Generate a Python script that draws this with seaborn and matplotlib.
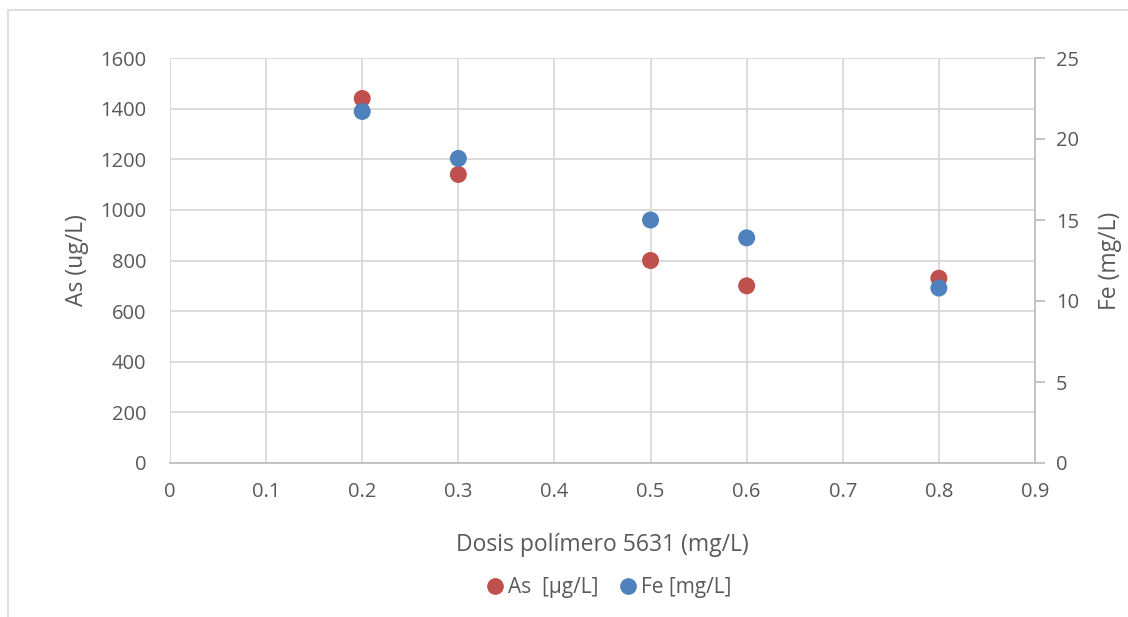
import matplotlib
matplotlib.use("Agg")
import matplotlib.pyplot as plt
from matplotlib.patches import Rectangle
from matplotlib.lines import Line2D
import seaborn as sns
import pandas as pd

# Polymer dose (mg/L) and measured concentrations
dosis = [0.2, 0.3, 0.5, 0.6, 0.8]
as_ugL = [1440, 1140, 800, 700, 730]
fe_mgL = [21.7, 18.8, 15.0, 13.9, 10.8]

x_ticks = [0, 0.1, 0.2, 0.3, 0.4, 0.5, 0.6, 0.7, 0.8, 0.9]
as_ticks = [0, 200, 400, 600, 800, 1000, 1200, 1400, 1600]
fe_ticks = [0, 5, 10, 15, 20, 25]

RED = "#C0504D"
BLUE = "#4F81BD"
TXT = "#595959"
GRID = "#D9D9D9"

sns.set_theme(style="white")
plt.rcParams["font.family"] = ["Open Sans", "DejaVu Sans"]

df = pd.DataFrame({"dosis": dosis, "As": as_ugL, "Fe": fe_mgL})

W, H = 1128, 617
fig = plt.figure(figsize=(W / 100, H / 100), dpi=100)
fig.patch.set_facecolor("white")

# chart frame
fig.patches.append(Rectangle((8 / W, -0.05), 1.2, 1 - 10 / H + 0.05,
                             transform=fig.transFigure, fill=False,
                             edgecolor=GRID, linewidth=1.2))

left, right, top, bottom = 170, 1035, 58, 463
ax = fig.add_axes([left / W, 1 - bottom / H, (right - left) / W, (bottom - top) / H])
ax2 = ax.twinx()

sns.scatterplot(data=df, x="dosis", y="As", ax=ax, color=RED, s=150,
                edgecolor="none", zorder=3)
sns.scatterplot(data=df, x="dosis", y="Fe", ax=ax2, color=BLUE, s=150,
                edgecolor="none", zorder=3)

ax.set_xlim(0, 0.9)
ax.set_ylim(0, 1600)
ax2.set_ylim(0, 25)
ax.set_xticks(x_ticks)
ax.set_xticklabels([f"{v:g}" for v in x_ticks])
ax.set_yticks(as_ticks)
ax2.set_yticks(fe_ticks)

ax.grid(True, color=GRID, linewidth=1.3)
ax.set_axisbelow(True)

for a in (ax, ax2):
    for s in a.spines.values():
        s.set_visible(False)
ax.spines["bottom"].set_visible(True)
ax.spines["bottom"].set_color("#BFBFBF")
ax.spines["bottom"].set_linewidth(1.3)
ax2.spines["right"].set_visible(True)
ax2.spines["right"].set_color("#BFBFBF")
ax2.spines["right"].set_linewidth(1.3)

ax.tick_params(axis="x", colors=TXT, labelsize=14.5, length=0, pad=14)
ax.tick_params(axis="y", colors=TXT, labelsize=14.5, length=0, pad=17)
ax2.tick_params(axis="y", colors=TXT, labelsize=14.5, length=7, width=1.3,
                color="#BFBFBF", pad=8)

ax.set_xlabel("Dosis polímero 5631 (mg/L)", color=TXT, fontsize=16.5, labelpad=22)
ax.set_ylabel("As (ug/L)", color=TXT, fontsize=16.5, labelpad=8)
ax2.set_ylabel("Fe (mg/L)", color=TXT, fontsize=16.5, labelpad=14)

handles = [
    Line2D([], [], marker="o", linestyle="none", color=RED, markersize=11, label="As  [µg/L]"),
    Line2D([], [], marker="o", linestyle="none", color=BLUE, markersize=11, label="Fe [mg/L]"),
]
fig.legend(handles=handles, loc="center", bbox_to_anchor=(0.54, 1 - 588 / H),
           ncol=2, frameon=False, fontsize=15, labelcolor=TXT,
           handlelength=0.8, handletextpad=0.25, columnspacing=1.0)

fig.savefig("out.png", dpi=100)
